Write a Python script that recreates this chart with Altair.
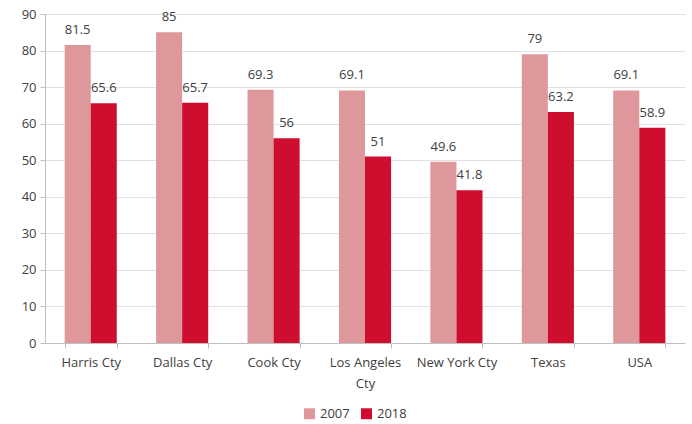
import altair as alt
import pandas as pd

regions = ["Harris Cty", "Dallas Cty", "Cook Cty", "Los Angeles Cty",
           "New York Cty", "Texas", "USA"]
values_2007 = [81.5, 85, 69.3, 69.1, 49.6, 79, 69.1]
values_2018 = [65.6, 65.7, 56, 51, 41.8, 63.2, 58.9]
years = ["2007", "2018"]
colors = ["#de979a", "#cf0e2f"]
y_ticks = [0, 10, 20, 30, 40, 50, 60, 70, 80, 90]

rows = []
for r, a, b in zip(regions, values_2007, values_2018):
    rows.append({"region": r, "year": years[0], "value": a})
    rows.append({"region": r, "year": years[1], "value": b})
df = pd.DataFrame(rows)

FONT = "Open Sans"
TXT = "#404040"

x = alt.X(
    "region:N", sort=regions, title=None,
    scale=alt.Scale(paddingInner=0.43, paddingOuter=0.215),
    axis=alt.Axis(
        labelAngle=0, labelFont=FONT, labelFontSize=13, labelColor=TXT,
        labelPadding=8, tickBand="extent", tickSize=5, tickColor="#bfbfbf",
        domainColor="#bfbfbf", grid=False, labelLineHeight=21,
        labelExpr="datum.label == 'Los Angeles Cty' ? ['Los Angeles', 'Cty'] : datum.label",
    ),
)
y = alt.Y(
    "value:Q", title=None,
    scale=alt.Scale(domain=[0, 90], nice=False),
    axis=alt.Axis(
        values=y_ticks, labelOverlap=False, labelFont=FONT, labelFontSize=13,
        labelColor=TXT, tickSize=5, tickColor="#bfbfbf", domainColor="#bfbfbf",
        gridColor="#e0e0e0", labelPadding=4,
    ),
)
color = alt.Color(
    "year:N", scale=alt.Scale(domain=years, range=colors),
    legend=alt.Legend(
        title=None, orient="none", legendX=258, legendY=393, direction="horizontal",
        symbolType="square", symbolSize=120, symbolStrokeWidth=0,
        labelFont=FONT, labelFontSize=13, labelColor=TXT, columnPadding=10,
    ),
)

base = alt.Chart(df).encode(x=x, y=y, xOffset=alt.XOffset("year:N", sort=years))

bars = base.mark_bar().encode(color=color)
labels = base.mark_text(
    baseline="bottom", dy=-8, font=FONT, fontSize=13, color=TXT
).encode(text="value:Q")

chart = (
    alt.layer(bars, labels)
    .properties(
        width=640, height=329,
        background="white",
        autosize=alt.AutoSizeParams(type="none"),
        padding={"left": 45, "top": 14, "right": 7, "bottom": 81},
    )
    .configure_view(strokeWidth=0, stroke="transparent")
)

chart.save("out.html", embed_options={"renderer": "svg", "actions": False})
